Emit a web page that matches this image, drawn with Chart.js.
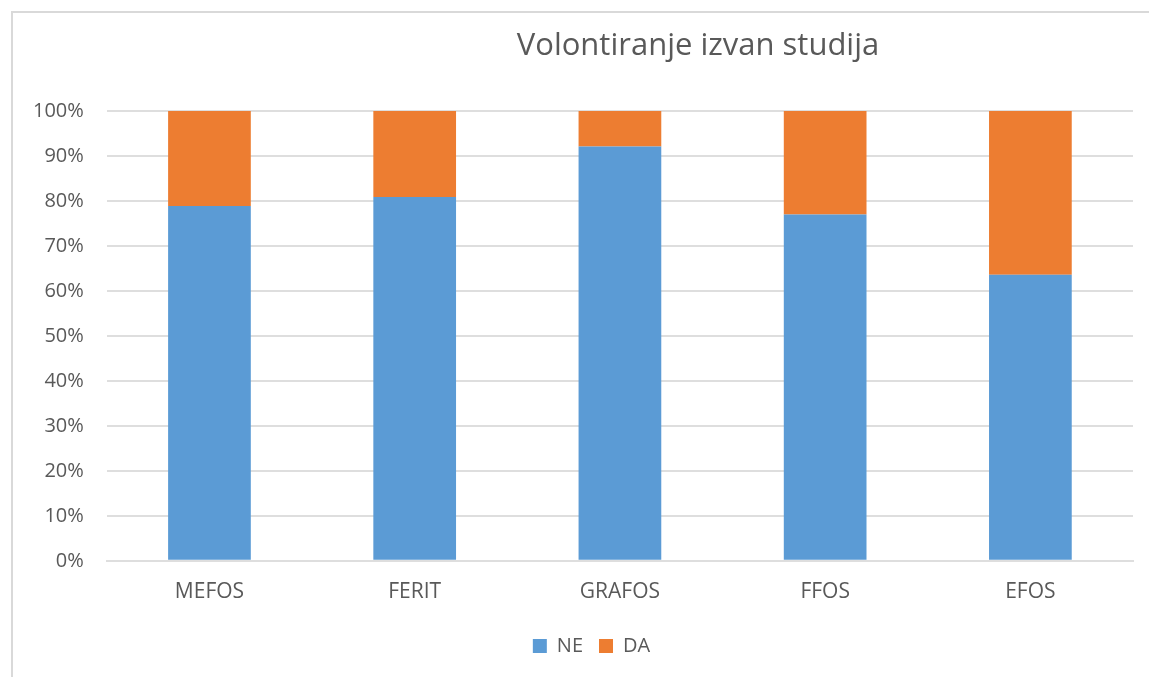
<!DOCTYPE html>
<html>
<head>
<meta charset="utf-8">
<script src="https://cdn.jsdelivr.net/npm/chart.js@4.4.1/dist/chart.umd.min.js"></script>
<style>
  html, body { margin: 0; padding: 0; background: #fff; overflow: hidden; }
  #frame {
    position: absolute; left: 11px; top: 11px; width: 1200px; height: 700px;
    border-left: 2px solid #d9d9d9; border-top: 2px solid #d9d9d9;
  }
  #title {
    position: absolute; left: 398px; top: 23px; width: 600px;
    text-align: center; font-family: "Open Sans", sans-serif; font-size: 31px;
    line-height: 40px; color: #595959; white-space: nowrap;
  }
  #wrap { position: absolute; left: 0; top: 0; width: 1149px; height: 677px; }
</style>
</head>
<body>
<div id="frame"></div>
<div id="wrap"><canvas id="chart"></canvas></div>
<div id="title">Volontiranje izvan studija</div>
<script>
  /* data */
  const faculties = ["MEFOS", "FERIT", "GRAFOS", "FFOS", "EFOS"];
  const neValues = [78.9, 80.9, 92.1, 77.0, 63.6];
  const daValues = [21.1, 19.1, 7.9, 23.0, 36.4];
  const seriesNames = ["NE", "DA"];

  const textColor = "#595959";
  const gridColor = "#dedede";

  Chart.defaults.font.family = "'Open Sans', sans-serif";
  Chart.defaults.font.size = 20;
  Chart.defaults.color = textColor;

  // legend in the reference sits a bit right of the canvas centre
  const legendShift = {
    id: "legendShift",
    afterLayout(chart) {
      chart.legend.left += 20;
      chart.legend.right += 20;
    }
  };

  new Chart(document.getElementById("chart"), {
    type: "bar",
    data: {
      labels: faculties,
      datasets: [
        {
          label: seriesNames[0],
          data: neValues,
          backgroundColor: "#5b9bd5",
          categoryPercentage: 1,
          barPercentage: 0.403
        },
        {
          label: seriesNames[1],
          data: daValues,
          backgroundColor: "#ed7d31",
          categoryPercentage: 1,
          barPercentage: 0.403
        }
      ]
    },
    options: {
      responsive: true,
      maintainAspectRatio: false,
      animation: false,
      layout: {
        padding: { left: 10, right: 16, top: 111, bottom: 11 }
      },
      plugins: {
        title: { display: false },
        tooltip: { enabled: false },
        legend: {
          position: "bottom",
          labels: {
            boxWidth: 14,
            boxHeight: 14,
            padding: 16,
            color: textColor,
            font: { size: 20 }
          }
        }
      },
      scales: {
        x: {
          stacked: true,
          grid: { display: false, drawTicks: false },
          border: { display: true, color: gridColor, width: 2 },
          ticks: { padding: 19, color: textColor, font: { size: 21 } },
          afterFit: scale => { scale.height -= 4; }
        },
        y: {
          stacked: true,
          min: 0,
          max: 100,
          grid: { color: gridColor, lineWidth: 2, drawTicks: false },
          border: { display: false },
          ticks: {
            stepSize: 10,
            padding: 23,
            color: textColor,
            callback: value => value + "%"
          }
        }
      }
    },
    plugins: [legendShift]
  });
</script>
</body>
</html>
